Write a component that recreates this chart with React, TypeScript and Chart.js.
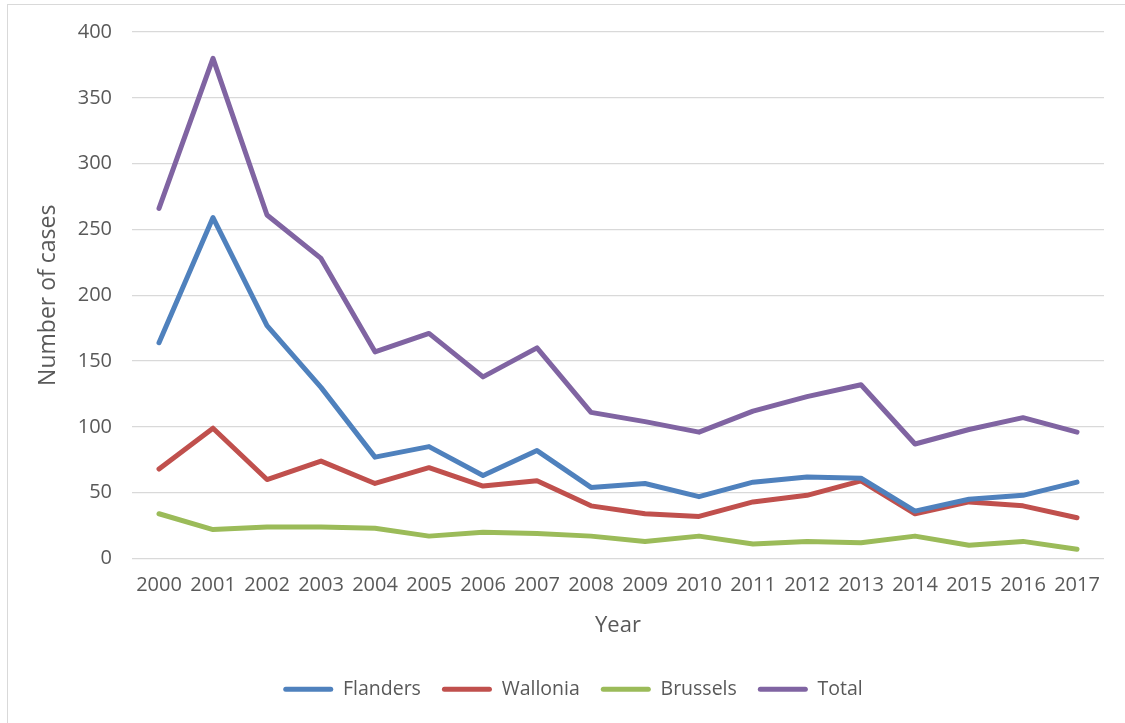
import React, { useEffect, useRef } from "react";
import { Chart, registerables } from "chart.js";

Chart.register(...registerables);

const years = [
  "2000", "2001", "2002", "2003", "2004", "2005", "2006", "2007", "2008",
  "2009", "2010", "2011", "2012", "2013", "2014", "2015", "2016", "2017",
];

const flanders = [164, 259, 177, 130, 77, 85, 63, 82, 54, 57, 47, 58, 62, 61, 36, 45, 48, 58];
const wallonia = [68, 99, 60, 74, 57, 69, 55, 59, 40, 34, 32, 43, 48, 59, 34, 43, 40, 31];
const brussels = [34, 22, 24, 24, 23, 17, 20, 19, 17, 13, 17, 11, 13, 12, 17, 10, 13, 7];
const total = [266, 380, 261, 228, 157, 171, 138, 160, 111, 104, 96, 112, 123, 132, 87, 98, 107, 96];

const seriesNames = ["Flanders", "Wallonia", "Brussels", "Total"];
const seriesColors = ["#4F81BD", "#C0504D", "#9BBB59", "#8064A2"];

const yTitle = "Number of cases";
const xTitle = "Year";

const FONT = "'Open Sans', 'DejaVu Sans', sans-serif";
const TEXT = "#595959";

export default function App() {
  const canvasRef = useRef<HTMLCanvasElement | null>(null);

  useEffect(() => {
    const canvas = canvasRef.current;
    if (!canvas) return;
    const values = [flanders, wallonia, brussels, total];
    const chart = new Chart(canvas, {
      type: "line",
      data: {
        labels: years,
        datasets: values.map((data, i) => ({
          label: seriesNames[i],
          data,
          borderColor: seriesColors[i],
          backgroundColor: seriesColors[i],
          borderWidth: 5,
          pointRadius: 0,
          pointHoverRadius: 0,
          tension: 0,
          borderJoinStyle: "round",
          borderCapStyle: "round",
          fill: false,
        })),
      },
      options: {
        animation: false,
        responsive: false,
        maintainAspectRatio: false,
        events: [],
        layout: { padding: { top: 32, right: 21, left: 42, bottom: 14 } },
        plugins: {
          tooltip: { enabled: false },
          title: { display: false },
          legend: {
            display: true,
            position: "bottom",
            labels: {
              boxWidth: 50,
              boxHeight: 5,
              useBorderRadius: true,
              borderRadius: 2.5,
              padding: 21,
              color: TEXT,
              font: { family: FONT, size: 19.5 },
              generateLabels: (c: any) =>
                c.data.datasets.map((ds: any, i: number) => ({
                  text: ds.label,
                  fillStyle: ds.borderColor,
                  strokeStyle: ds.borderColor,
                  lineWidth: 0,
                  borderRadius: 2.5,
                  hidden: false,
                  datasetIndex: i,
                  fontColor: TEXT,
                })),
            },
          },
        },
        scales: {
          x: {
            type: "category",
            offset: true,
            grid: { display: false, drawTicks: false },
            border: { display: false },
            ticks: {
              color: TEXT,
              font: { family: FONT, size: 20 },
              padding: 15,
              maxRotation: 0,
              autoSkip: false,
            },
            title: {
              display: true,
              text: xTitle,
              color: TEXT,
              font: { family: FONT, size: 22 },
              padding: { top: 0, bottom: 20 },
            },
            afterFit: (scale: any) => {
              scale.height = 100;
            },
          },
          y: {
            min: 0,
            max: 400,
            ticks: {
              stepSize: 50,
              color: TEXT,
              font: { family: FONT, size: 20 },
              padding: 20,
            },
            grid: { color: "#d9d9d9", lineWidth: 1.3, drawTicks: false },
            border: { display: false },
            title: {
              display: true,
              text: yTitle,
              color: TEXT,
              font: { family: FONT, size: 23 },
              padding: { top: -7, bottom: 0 },
            },
            afterFit: (scale: any) => {
              scale.width = 90;
            },
          },
        },
      },
    });
    return () => chart.destroy();
  }, []);

  return (
    <div
      style={{
        position: "fixed",
        left: 0,
        top: 0,
        width: 1125,
        height: 723,
        overflow: "hidden",
        background: "#ffffff",
      }}
    >
      <div
        style={{
          position: "absolute",
          left: 7,
          top: 4,
          width: 1300,
          height: 900,
          border: "1px solid #d9d9d9",
          boxSizing: "border-box",
        }}
      />
      <canvas
        ref={canvasRef}
        width={1125}
        height={723}
        style={{ position: "absolute", left: 0, top: 0, width: 1125, height: 723 }}
      />
    </div>
  );
}
